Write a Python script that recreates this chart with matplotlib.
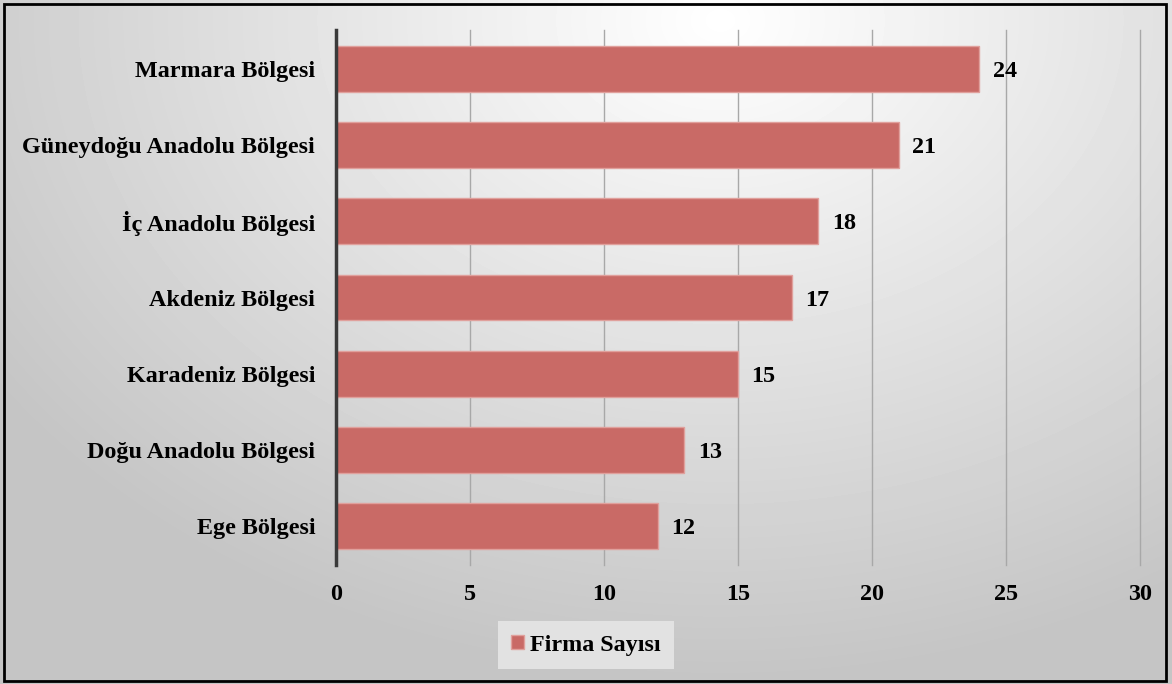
import numpy as np
import matplotlib.pyplot as plt
from matplotlib.patches import Rectangle

regions = ['Ege Bölgesi', 'Doğu Anadolu Bölgesi', 'Karadeniz Bölgesi',
           'Akdeniz Bölgesi', 'İç Anadolu Bölgesi', 'Güneydoğu Anadolu Bölgesi',
           'Marmara Bölgesi']
firms = [12, 13, 15, 17, 18, 21, 24]
xticks = [0, 5, 10, 15, 20, 25, 30]
series_name = 'Firma Sayısı'

plt.rcParams['font.family'] = ['Liberation Serif', 'DejaVu Serif']
plt.rcParams['font.weight'] = 'bold'
fs = 17.4

fig = plt.figure(figsize=(11.72, 6.84), dpi=100)

# radial gray background
bg = fig.add_axes([0, 0, 1, 1], zorder=-10)
yy, xx = np.mgrid[0:684, 0:1172]
r = np.sqrt(((xx - 720) / 1172.0) ** 2 + ((yy - 20) / 684.0) ** 2 * 0.6)
shade = 1.0 - 0.23 * np.clip(r / 0.75, 0, 1)
bg.imshow(shade, cmap='gray', vmin=0, vmax=1, aspect='auto', extent=[0, 1, 0, 1])
bg.axis('off')
fig.patches.append(Rectangle((0.003, 0.004), 0.992, 0.99, transform=fig.transFigure,
                             fill=False, edgecolor='black', linewidth=2))

ax = fig.add_axes([0.2867, 0.174, 0.686, 0.782])
ax.patch.set_alpha(0)
y = np.arange(len(regions))
ax.barh(y, firms, height=0.6, color='#C96A66', edgecolor='#E0A09C',
        linewidth=1, label=series_name, zorder=3)
for yi, v in zip(y, firms):
    ax.text(v + 0.5, yi, str(v), va='center_baseline', ha='left', fontsize=fs,
            fontweight='bold', zorder=4)

ax.set_xlim(0, 30)
ax.set_ylim(-0.51, 6.51)
ax.set_xticks(xticks)
ax.set_yticks(y)
ax.set_yticklabels(regions, fontsize=fs, fontweight='bold')
ax.tick_params(axis='x', labelsize=fs, length=0, pad=14)
ax.tick_params(axis='y', length=0, pad=15)
for lbl in ax.get_xticklabels():
    lbl.set_fontweight('bold')
ax.grid(axis='x', color='#a8a8a8', linewidth=1, zorder=1)
for gl in ax.get_xgridlines():
    gl.set_clip_on(False)
for s in ['top', 'right', 'bottom']:
    ax.spines[s].set_visible(False)
ax.spines['left'].set_color('#3a3a3a')
ax.spines['left'].set_linewidth(2.5)
ax.spines['left'].set_zorder(5)

h, l = ax.get_legend_handles_labels()
leg = fig.legend(h, l, loc='center', bbox_to_anchor=(0.5, 0.057), frameon=True,
                 prop={'size': fs, 'weight': 'bold'}, handlelength=0.55,
                 handleheight=0.55, handletextpad=0.25, borderpad=0.55, fancybox=False)
leg.get_frame().set_facecolor('#e2e2e2')
leg.get_frame().set_edgecolor('none')
leg.get_frame().set_alpha(1)

fig.savefig('out.png', dpi=100)
